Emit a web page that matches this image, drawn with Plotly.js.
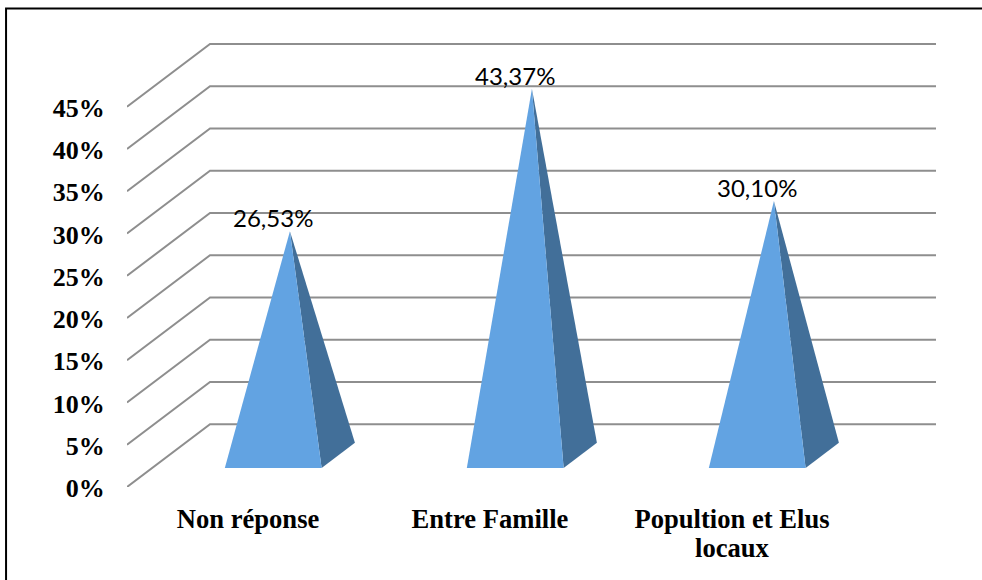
<!DOCTYPE html>
<html>
<head>
<meta charset="utf-8">
<script src="https://cdn.plot.ly/plotly-3.0.1.min.js"></script>
<style>html,body{margin:0;padding:0;background:#fff}#c{width:982px;height:580px}</style>
</head>
<body>
<div id="c"></div>
<script>
var categories = ['Non réponse', 'Entre Famille', 'Popultion et Elus'];
var categorySecondLine = 'locaux';
var values = [26.53, 43.37, 30.10];
var valueLabels = ['26,53%', '43,37%', '30,10%'];
var gridValues = [0, 5, 10, 15, 20, 25, 30, 35, 40, 45];
var tickLabels = ['0%', '5%', '10%', '15%', '20%', '25%', '30%', '35%', '40%', '45%'];

// Oblique projection of the 3D box: depth 0 (front) to 1 (back wall)
var depthX = 0.343, depthY = 7.42;
var halfBase = 0.2, frontD = 0.304, backD = 0.705, apexD = 0.505;
function px(x, d) { return x + d * depthX; }
function py(v, d) { return v + d * depthY; }

var traces = [];
gridValues.forEach(function (v) {
  traces.push({
    x: [-0.5, px(-0.5, 1), px(2.5, 1)],
    y: [v, py(v, 1), py(v, 1)],
    mode: 'lines', line: {color: '#8e8e8e', width: 2},
    hoverinfo: 'skip', showlegend: false
  });
});
values.forEach(function (v, i) {
  // right side face
  traces.push({
    x: [px(i + halfBase, frontD), px(i + halfBase, backD), px(i, apexD), px(i + halfBase, frontD)],
    y: [py(0, frontD), py(0, backD), py(v, apexD), py(0, frontD)],
    mode: 'lines', fill: 'toself', fillcolor: '#426f99', line: {width: 0, color: '#426f99'},
    hoverinfo: 'skip', showlegend: false
  });
  // front face
  traces.push({
    x: [px(i - halfBase, frontD), px(i + halfBase, frontD), px(i, apexD), px(i - halfBase, frontD)],
    y: [py(0, frontD), py(0, frontD), py(v, apexD), py(0, frontD)],
    mode: 'lines', fill: 'toself', fillcolor: '#62a3e2', line: {width: 0, color: '#62a3e2'},
    hoverinfo: 'skip', showlegend: false
  });
});

var annotations = values.map(function (v, i) {
  return {
    x: px(i, frontD), y: py(v, apexD), xref: 'x', yref: 'y',
    text: valueLabels[i], showarrow: false, xanchor: 'center', yanchor: 'bottom', yshift: -3,
    font: {family: 'Lato, "Open Sans", sans-serif', size: 24, color: '#000'}
  };
});
annotations.push({
  x: 2, y: -0.135, xref: 'x', yref: 'paper',
  text: categorySecondLine, showarrow: false, xanchor: 'center', yanchor: 'middle',
  font: {family: '"Liberation Serif", serif', size: 26.6, weight: 700, color: '#000'}
});

var layout = {
  width: 982, height: 580,
  margin: {l: 127, r: 46, t: 34, b: 93},
  paper_bgcolor: '#fff', plot_bgcolor: 'rgba(0,0,0,0)',
  showlegend: false,
  annotations: annotations,
  xaxis: {
    range: [-0.5, 2.5 + depthX], tickmode: 'array', tickvals: [0, 1, 2], ticktext: categories,
    showgrid: false, zeroline: false, showline: false,
    ticks: 'outside', ticklen: 8, tickcolor: 'rgba(0,0,0,0)',
    tickangle: 0,
    tickfont: {family: '"Liberation Serif", serif', size: 26.6, weight: 700, color: '#000'}
  },
  yaxis: {
    range: [0, 53.603], tickmode: 'array', tickvals: gridValues, ticktext: tickLabels,
    showgrid: false, zeroline: false, showline: false,
    ticks: 'outside', ticklen: 16, tickcolor: 'rgba(0,0,0,0)',
    ticklabelshift: 1,
    tickfont: {family: '"Liberation Serif", serif', size: 26, weight: 700, color: '#000'}
  },
  shapes: [{
    type: 'path', xref: 'paper', yref: 'paper',
    path: 'M -0.1495,-0.2053 L -0.1495,1.0563 L 1.0569,1.0563',
    line: {color: '#000', width: 2}
  }]
};
Plotly.newPlot('c', traces, layout, {displayModeBar: false, staticPlot: true});
</script>
</body>
</html>
